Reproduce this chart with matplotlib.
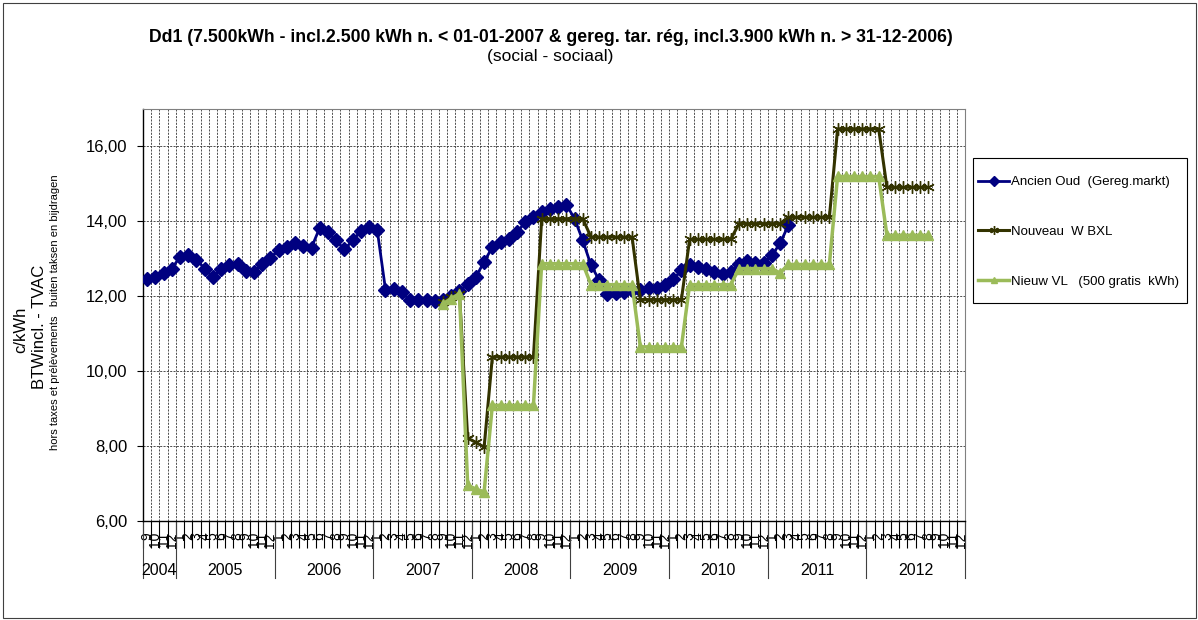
################################################################################
import numpy as np, pandas as pd;
import matplotlib as mpl;
mpl.use('Agg');
import matplotlib.pyplot as plt;
import matplotlib.transforms as mtransforms;
from matplotlib.ticker import FuncFormatter;
from matplotlib.patches import Rectangle;
################################################################################
plt.rcParams['font.family'] = ['Liberation Sans', 'DejaVu Sans'];
################################################################################
# data (c/kWh per month, sep 2004 -> dec 2012)
years = ['2004','2005','2006','2007','2008','2009','2010','2011','2012'];
months_per_year = [4,12,12,12,12,12,12,12,12];
first_month = 9;

ancien_oud = [
    12.47, 12.51, 12.62, 12.74,                                            # 2004
    13.05, 13.11, 12.98, 12.74, 12.51, 12.74, 12.83, 12.87, 12.68, 12.65, 12.87, 13.03,  # 2005
    13.23, 13.31, 13.41, 13.33, 13.30, 13.83, 13.71, 13.49, 13.25, 13.49, 13.74, 13.85,  # 2006
    13.76, 12.18, 12.20, 12.11, 11.89, 11.90, 11.90, 11.88, 11.90, 12.02, 12.15, 12.32,  # 2007
    12.52, 12.92, 13.31, 13.45, 13.54, 13.71, 13.98, 14.11, 14.25, 14.34, 14.38, 14.45,  # 2008
    14.07, 13.49, 12.83, 12.43, 12.07, 12.10, 12.11, 12.16, 12.16, 12.22, 12.22, 12.30,  # 2009
    12.45, 12.69, 12.83, 12.78, 12.72, 12.65, 12.60, 12.65, 12.85, 12.95, 12.88, 12.88,  # 2010
    13.09, 13.41, 13.89,                                                   # 2011
];
tariff_start = 36;   # sep 2007
nouveau_bxl = [
    11.85, 11.98, 12.07, 8.21, 8.10, 7.97,
    10.38, 10.38, 10.38, 10.38, 10.38, 10.38,
    14.07, 14.07, 14.07, 14.07, 14.07, 14.07,
    13.58, 13.58, 13.58, 13.58, 13.58, 13.58,
    11.91, 11.91, 11.91, 11.91, 11.91, 11.91,
    13.52, 13.52, 13.52, 13.52, 13.52, 13.52,
    13.94, 13.94, 13.94, 13.94, 13.94, 13.94,
    14.11, 14.11, 14.11, 14.11, 14.11, 14.11,
    16.47, 16.47, 16.47, 16.47, 16.47, 16.47,
    14.91, 14.91, 14.91, 14.91, 14.91, 14.91,
];
nieuw_vl = [
    11.80, 11.94, 12.07, 6.96, 6.85, 6.78,
    9.09, 9.09, 9.09, 9.09, 9.09, 9.09,
    12.87, 12.87, 12.87, 12.87, 12.87, 12.87,
    12.31, 12.31, 12.31, 12.31, 12.31, 12.31,
    10.65, 10.65, 10.65, 10.65, 10.65, 10.65,
    12.31, 12.31, 12.31, 12.31, 12.31, 12.31,
    12.74, 12.74, 12.74, 12.74, 12.74, 12.62,
    12.85, 12.85, 12.85, 12.85, 12.85, 12.85,
    15.20, 15.20, 15.20, 15.20, 15.20, 15.20,
    13.63, 13.63, 13.63, 13.63, 13.63, 13.63,
];
################################################################################
# month labels + table
month_labels = [];
for k, n in enumerate(months_per_year):
    m0 = first_month if k == 0 else 1;
    month_labels += [str(m) for m in range(m0, m0 + n)];
nmonths = len(month_labels);

def pad(vals, start):
    out = np.full(nmonths, np.nan);
    out[start:start+len(vals)] = vals;
    return out;

df = pd.DataFrame({
    'oud': pad(ancien_oud, 0),
    'bxl': pad(nouveau_bxl, tariff_start),
    'vl' : pad(nieuw_vl, tariff_start),
}, index=np.arange(nmonths));
################################################################################
styles = {
    'oud': {
        'color': '#000080', 'marker': 'D', 'markersize': 7.5,
        'linewidth': 2.0, 'label': 'Ancien Oud  (Gereg.markt)', 'zorder': 3,
    },
    'bxl': {
        'color': '#333300', 'marker': (6, 2, 0), 'markersize': 9,
        'markeredgewidth': 1.0, 'linewidth': 2.2,
        'label': 'Nouveau  W BXL', 'zorder': 4,
    },
    'vl': {
        'color': '#9BBB59', 'marker': '^', 'markersize': 7,
        'linewidth': 2.5, 'label': 'Nieuw VL   (500 gratis  kWh)', 'zorder': 5,
    },
    'grid': {
        'color': '#333333', 'linewidth': 0.6, 'linestyle': (0, (2.5, 1.5)),
    },
};
################################################################################
# plot
fig = plt.figure(figsize=(11.98, 6.2), dpi=100);
ax = fig.add_axes([143/1198, 1-521/620, 822/1198, 412/620]);

for col in ['oud', 'bxl', 'vl']:
    ax.plot(df.index, df[col], **styles[col]);

ax.set_xlim(-0.5, nmonths - 0.5);
ax.set_ylim(6, 17);
ax.set_yticks(np.arange(6, 17, 2));
ax.yaxis.set_major_formatter(FuncFormatter(lambda v, p: ('%.2f' % v).replace('.', ',')));
ax.tick_params(axis='y', length=4, width=0.8, pad=7.5, labelsize=12);

# month ticks at the boundaries, month labels at the centers
ax.set_xticks(np.arange(-0.5, nmonths, 1));
ax.set_xticklabels([]);
ax.set_xticks(np.arange(nmonths), minor=True);
ax.set_xticklabels(month_labels, minor=True, rotation=90, fontsize=10);
ax.tick_params(axis='x', which='major', length=19.5, width=0.8);
ax.tick_params(axis='x', which='minor', length=0, pad=8);

ax.grid(axis='y', **styles['grid']);
ax.grid(axis='x', which='major', **styles['grid']);
ax.set_axisbelow(True);

for s in ['top', 'right']:
    ax.spines[s].set_color('#808080');
for s in ['left', 'bottom']:
    ax.spines[s].set_color('black');
    ax.spines[s].set_linewidth(1.0);

# year level of the category axis
trans = mtransforms.blended_transform_factory(ax.transData, ax.transAxes);
edges = np.concatenate([[0], np.cumsum(months_per_year)]) - 0.5;
for k, yr in enumerate(years):
    ax.text((edges[k] + edges[k+1]) / 2, -0.119, yr, transform=trans,
            ha='center', va='center', fontsize=11.5);
for e in edges:
    ax.plot([e, e], [0, -0.138], transform=trans, color='#404040',
            linewidth=0.8, clip_on=False);

# titles / axis title
fig.text(551/1198, 1-37/620,
    'Dd1 (7.500kWh - incl.2.500 kWh n. < 01-01-2007 & gereg. tar. rég, incl.3.900 kWh n. > 31-12-2006)',
    ha='center', va='center', fontsize=12.7, fontweight='bold');
fig.text(550/1198, 1-57/620, '(social - sociaal)', ha='center', va='center', fontsize=12.5);
fig.text(21/1198, 1-330/620, 'c/kWh', rotation=90, ha='center', va='center', fontsize=12);
fig.text(39/1198, 1-327/620, 'BTWincl. - TVAC', rotation=90, ha='center', va='center', fontsize=12);
fig.text(55/1198, 1-312/620, 'hors taxes et prélèvements   buiten taksen en bijdragen',
         rotation=90, ha='center', va='center', fontsize=8);

# legend: entries placed inside a separately drawn box
leg = ax.legend(loc='upper left', bbox_to_anchor=(978/1198, 1-176/620),
                bbox_transform=fig.transFigure, borderaxespad=0, borderpad=0,
                frameon=False, fontsize=9.5, labelspacing=2.85,
                handlelength=2.35, handletextpad=0.15, numpoints=1,
                markerscale=0.7);
fig.patches.append(Rectangle((973/1198, 1-303/620), 214/1198, 145.3/620,
                             transform=fig.transFigure, fill=False,
                             edgecolor='black', linewidth=0.8));

# chart area border
fig.patches.append(Rectangle((2.5/1198, 2.5/620), 1193/1198, 615/620,
                             transform=fig.transFigure, fill=False,
                             edgecolor='#404040', linewidth=0.8));

fig.savefig('out.png', dpi=100);
plt.close(fig);
print('done');
